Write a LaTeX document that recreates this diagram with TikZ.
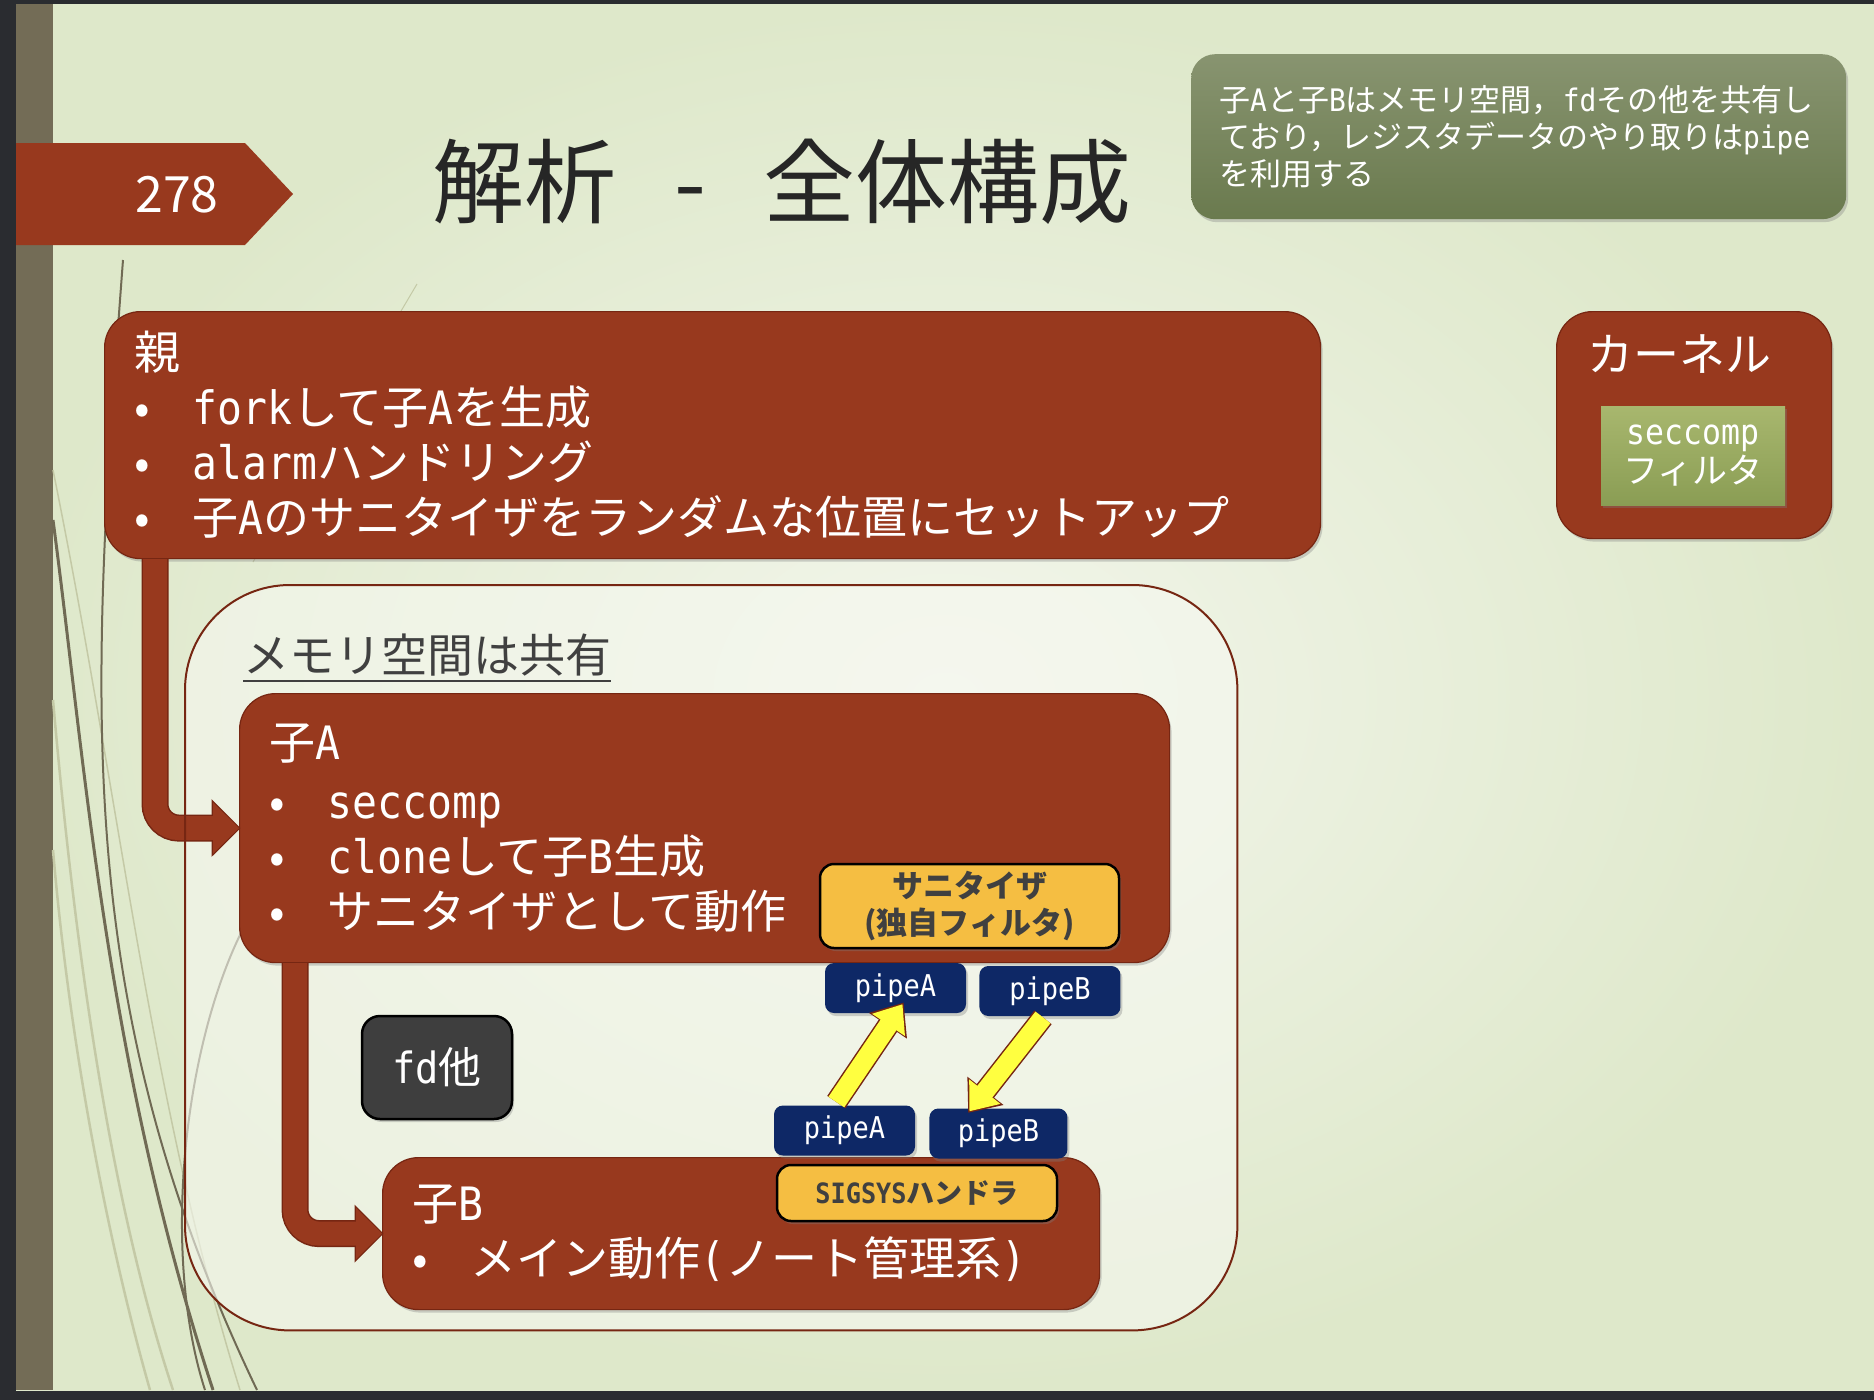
\documentclass[tikz,border=0pt]{standalone}
\usepackage{fontspec}
\setmainfont{Noto Sans CJK JP}
\newfontfamily\mono[FakeStretch=0.9]{DejaVu Sans Mono}
\usepackage{tikz}
\usetikzlibrary{arrows.meta,positioning,shadows,calc}

\definecolor{rust}{RGB}{152,57,30}
\definecolor{rustdark}{RGB}{118,38,18}
\definecolor{framegray}{RGB}{42,44,48}
\definecolor{barolive}{RGB}{115,108,86}
\definecolor{bgcenter}{RGB}{243,246,236}
\definecolor{bgedge}{RGB}{222,232,202}
\definecolor{wispdark}{RGB}{112,106,84}
\definecolor{wisplight}{RGB}{196,201,166}
\definecolor{notetop}{RGB}{136,148,112}
\definecolor{notebot}{RGB}{106,122,78}
\definecolor{filtertop}{RGB}{168,183,110}
\definecolor{filterbot}{RGB}{138,157,84}
\definecolor{boxyellow}{RGB}{245,190,66}
\definecolor{pipenavy}{RGB}{14,40,102}
\definecolor{fdgray}{RGB}{62,62,62}
\definecolor{textgray}{RGB}{64,64,64}
\definecolor{titlegray}{RGB}{38,38,38}
\definecolor{memfill}{RGB}{246,248,240}
\definecolor{arrowyellow}{RGB}{255,255,64}

\newcommand{\fsz}[2]{\fontsize{#1}{#2}\selectfont}
\newcommand{\itm}{\makebox[58pt][l]{•}}

\begin{document}
\begin{tikzpicture}[x=1pt, y=-1pt,
  every node/.style={font=\fsz{46}{55}},
  boxshadow/.style={drop shadow={shadow xshift=2pt, shadow yshift=-3pt, opacity=.35}},
  redbox/.style={draw=rustdark, line width=1.2pt, fill=rust, rounded corners=36pt, text=white, align=left, inner xsep=30pt, boxshadow},
  notebox/.style={rounded corners=24pt, top color=notetop, bottom color=notebot, text=white, align=left, inner xsep=28pt, font=\fsz{31}{37}, boxshadow},
  filterbox/.style={top color=filtertop, bottom color=filterbot, text=white, align=center, font=\fsz{35}{39}, boxshadow},
  yellowbox/.style={draw=black, line width=2.5pt, fill=boxyellow, rounded corners=14pt, text=textgray, align=center, font=\bfseries\fsz{31}{37}, boxshadow},
  pipebox/.style={fill=pipenavy, rounded corners=9pt, text=white, minimum width=141pt, minimum height=50pt, font=\mono\fsz{30}{30}, boxshadow},
  fdbox/.style={draw=black, line width=2.5pt, fill=fdgray, rounded corners=18pt, text=white, font=\fsz{43}{43}, boxshadow},
  membox/.style={fill=memfill, fill opacity=.6, rounded corners=105pt},
  memline/.style={draw=rustdark, line width=2pt, rounded corners=105pt},
  flowarrow/.style={draw=rust, line width=24pt, rounded corners=24pt, -{Triangle[width=50pt,length=26pt]},
    preaction={draw=rustdark, line width=27pt, rounded corners=24pt, -{Triangle[width=56pt,length=29pt]}, shorten >=-1.5pt}},
  pipearrow/.style={draw=arrowyellow, line width=19pt, shorten <=1.5pt, -{Triangle[width=38pt,length=25pt]},
    preaction={draw=rustdark, line width=22pt, -{Triangle[width=44pt,length=28pt]}, shorten >=-2pt}},
  wisp/.style={draw=wispdark, line width=2.5pt},
  wispfaint/.style={draw=wisplight, line width=2.5pt}]

  \useasboundingbox (0,0) rectangle (1874,1400);
  % slide background
  \fill[framegray] (0,0) rectangle (1874,1400);
  \shade[inner color=bgcenter, outer color=bgedge] (16,4) rectangle (1874,1390);
  \fill[barolive] (16,4) rectangle (53,1390);

  % wisps on the left
  \draw[wispfaint] (53,700) .. controls (75,950) and (110,1200) .. (173,1390);
  \draw[wispfaint] (53,850) .. controls (70,1050) and (110,1250) .. (150,1390);
  \draw[wispfaint, line width=1.5pt] (53,470) .. controls (120,800) and (150,1100) .. (240,1390);
  \draw[wisp, line width=2pt] (123,260) .. controls (90,700) and (70,1000) .. (257,1390);
  \draw[wisp, line width=3pt] (53,520) .. controls (85,760) and (105,1060) .. (213,1390);
  \draw[wisp, line width=2pt] (245,925) .. controls (185,1040) and (160,1250) .. (205,1390);
  \draw[wisplight, line width=1pt] (417,284) -- (253,562);

  % title row
  \fill[rust] (16,143) -- (245,143) -- (293,194) -- (245,245) -- (16,245) -- cycle;
  \node[text=white, font=\fsz{50}{50}] (pagenum) at (177,195) {278};
  \node[text=titlegray, font=\fsz{92}{92}] (title) at (782,182) {解析\hspace{58pt}-\hspace{58pt}全体構成};
  \node[notebox, text width=599pt, minimum height=165pt, anchor=north west] (note) at (1191,54)
    {子{\mono A}と子{\mono B}はメモリ空間，{\mono fd}その他を共有し\\ており，レジスタデータのやり取りは{\mono pipe}\\を利用する};

  % kernel
  \node[redbox, minimum width=275pt, minimum height=227pt, anchor=north west] (kernel) at (1556,311) {};
  \node[text=white] (kernelname) at (1679,354) {カーネル};
  \node[filterbox, minimum width=184pt, minimum height=99pt] (filter) at (1693,455.5) {{\mono seccomp}\\フィルタ};

  % processes
  \node[membox, minimum width=1052pt, minimum height=745pt, anchor=north west] (memory) at (185,585) {};
  \node[anchor=base west, inner sep=0pt, text=textgray] (memlabel) at (243,672) {メモリ空間は共有};
  \draw[textgray, line width=2pt] ([yshift=-9pt]memlabel.base west) -- ([yshift=-9pt]memlabel.base east);

  \node[redbox, text width=1156pt, minimum height=247pt, anchor=north west] (parent) at (104,311)
    {親\\ \itm{\mono fork}して子{\mono A}を生成\\ \itm{\mono alarm}ハンドリング\\ \itm 子{\mono A}のサニタイザをランダムな位置にセットアップ};
  \node[redbox, text width=870pt, minimum height=269pt, anchor=north west] (childA) at (239,693)
    {子{\mono A}\\[4pt] \itm{\mono seccomp}\\ \itm{\mono clone}して子{\mono B}生成\\ \itm サニタイザとして動作};
  \node[redbox, text width=657pt, minimum height=152pt, anchor=north west] (childB) at (382,1157)
    {子{\mono B}\\ \itm メイン動作{\mono(}ノート管理系{\mono)}};

  \node[yellowbox, minimum width=299pt, minimum height=84pt] (sanitizer) at (969.5,906) {サニタイザ\\(独自フィルタ)};
  \node[yellowbox, minimum width=280pt, minimum height=56pt, font=\bfseries\fsz{28}{28}] (sigsys) at (917,1193) {{\mono SIGSYS}ハンドラ};
  \node[fdbox, minimum width=150pt, minimum height=103pt] (fd) at (437,1067.5) {{\mono fd}他};

  \node[pipebox] (pipeA1) at (895.5,988) {pipeA};
  \node[pipebox, right=13pt of pipeA1, yshift=-3pt] (pipeB1) {pipeB};
  \node[pipebox] (pipeA2) at (844.5,1130.5) {pipeA};
  \node[pipebox, right=14pt of pipeA2, yshift=-3pt, minimum width=138pt] (pipeB2) {pipeB};

  \draw[flowarrow] ([xshift=51pt]parent.south west) |- (childA.west);
  \draw[flowarrow] ([xshift=56pt]childA.south west) |- (childB.west);
  \draw[memline] (memory.north west) rectangle (memory.south east);

  \draw[pipearrow] ([xshift=-9pt,yshift=2pt]pipeA2.north) -- ([xshift=7pt,yshift=9pt]pipeA1.south);
  \draw[pipearrow] ([xshift=-6pt]pipeB1.south) -- ([xshift=-29pt,yshift=-3pt]pipeB2.north);
\end{tikzpicture}
\end{document}
